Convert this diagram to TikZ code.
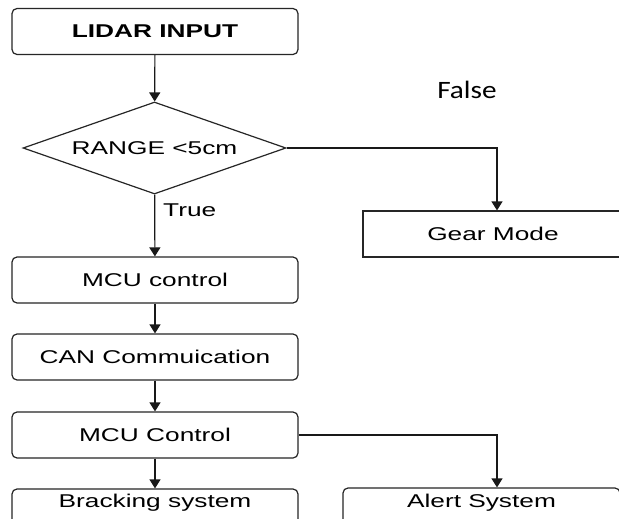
\documentclass[tikz,border=0pt]{standalone}
\usepackage{fontspec}
\usepackage{graphicx}
\setmainfont{Liberation Sans}
\newfontfamily\falsefont{Carlito}
\usetikzlibrary{shapes.geometric,arrows.meta}
\newcommand\sxt[1]{\scalebox{1.42}[1]{#1}}
\tikzset{
  boxr/.style={draw=black!85, line width=1.2pt, rounded corners=5pt, inner sep=0pt,
    minimum width=286pt, minimum height=46pt, font=\fontsize{18.5}{20}\selectfont},
  boxs/.style={draw=black!85, line width=1.2pt, inner sep=0pt,
    minimum width=260pt, minimum height=46pt, font=\fontsize{18.5}{20}\selectfont},
  dec/.style={draw=black!85, line width=1.2pt, diamond, inner sep=0pt,
    minimum width=263pt, minimum height=92pt, aspect=2.86, font=\fontsize{18.5}{20}\selectfont},
  arr/.style={draw=black!90, line width=1.2pt, -{Triangle[width=11pt,length=9pt]}},
  lbl/.style={inner sep=0pt, font=\fontsize{18.5}{20}\selectfont}
}
\begin{document}
\begin{tikzpicture}[x=1pt,y=-1pt]
\useasboundingbox (0,0) rectangle (619,519);
\clip (0,0) rectangle (619,519);
\fill[white] (0,0) rectangle (619,519);
\node[boxr] (lidar) at (155,31.5) {\sxt{\bfseries LIDAR INPUT}};
\node[dec] (range) at (154.5,148) {\sxt{RANGE <5cm}};
\node[boxr] (mcu1) at (155,280) {\sxt{MCU control}};
\node[boxr] (can) at (155,357) {\sxt{CAN Commuication}};
\node[boxr] (mcu2) at (155,435) {\sxt{MCU Control}};
\node[boxr] (brake) at (155,512) {};
\node[lbl] (braketext) at (155,503) {\sxt{Bracking system}};
\node[boxs] (gear) at (493,234) {\sxt{Gear Mode}};
\node[boxr, minimum width=277pt] (alert) at (481.5,511) {};
\node[lbl] (alerttext) at (481.5,503) {\sxt{Alert System}};
\node[lbl, anchor=west] (true) at (163,210) {\sxt{True}};
\node[inner sep=0pt, font=\fontsize{25}{27}\falsefont] (false) at (467,90) {\scalebox{1.17}[1]{False}};
\coordinate (g1) at (497,148);
\coordinate (a1) at (497,435);
\draw[arr] (lidar) -- (range);
\draw[arr] (range) -- (mcu1);
\draw[arr] (mcu1) -- (can);
\draw[arr] (can) -- (mcu2);
\draw[arr] (mcu2) -- (brake);
\draw[arr] (range.east) -- (g1) -- (gear.north -| g1);
\draw[arr] (mcu2.east) -- (a1) -- (alert.north -| a1);
\end{tikzpicture}
\end{document}
